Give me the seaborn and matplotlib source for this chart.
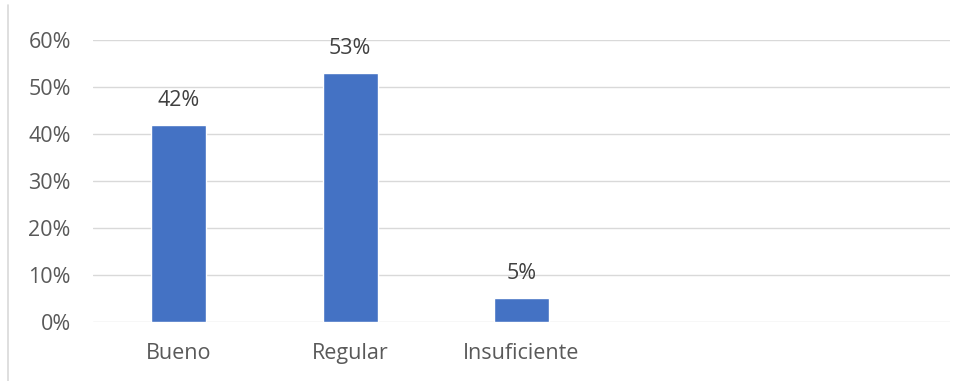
import matplotlib
matplotlib.use("Agg")
import matplotlib.pyplot as plt
import seaborn as sns
import pandas as pd
from matplotlib.lines import Line2D

categories = ["Bueno", "Regular", "Insuficiente"]
values = [42, 53, 5]
y_ticks = [0, 10, 20, 30, 40, 50, 60]

sns.set_theme(style="white")
plt.rcParams["font.family"] = ["Open Sans", "DejaVu Sans"]

df = pd.DataFrame({"categoria": categories, "valor": values})

fig = plt.figure(figsize=(9.63, 3.81), dpi=100)
ax = fig.add_axes([93 / 963, 1 - 321.7 / 381, (950 - 93) / 963, (321.7 - 40) / 381])

sns.barplot(data=df, x="categoria", y="valor", order=categories,
            color="#4472C4", saturation=1, width=0.32, ax=ax, zorder=3)

ax.set_xlim(-0.5, 4.5)
ax.set_ylim(0, 60)
ax.set_yticks(y_ticks)
ax.set_yticklabels([f"{t}%" for t in y_ticks])
ax.set_xlabel("")
ax.set_ylabel("")

for t in y_ticks:
    ax.axhline(t, color="#D9D9D9", lw=1.0, zorder=1)

for s in ax.spines.values():
    s.set_visible(False)

ax.tick_params(axis="both", length=0, labelsize=15.5, labelcolor="#595959")
ax.tick_params(axis="y", pad=16)
ax.tick_params(axis="x", pad=15)

for i, v in enumerate(values):
    ax.annotate(f"{v}%", (i, v), xytext=(0, 10), textcoords="offset points",
                ha="center", va="bottom", fontsize=15.5, color="#404040")

fig.add_artist(Line2D([8 / 963, 8 / 963], [0, 1 - 5 / 381], color="#D9D9D9", lw=1.2))

fig.savefig("out.png", dpi=100, facecolor="white")
